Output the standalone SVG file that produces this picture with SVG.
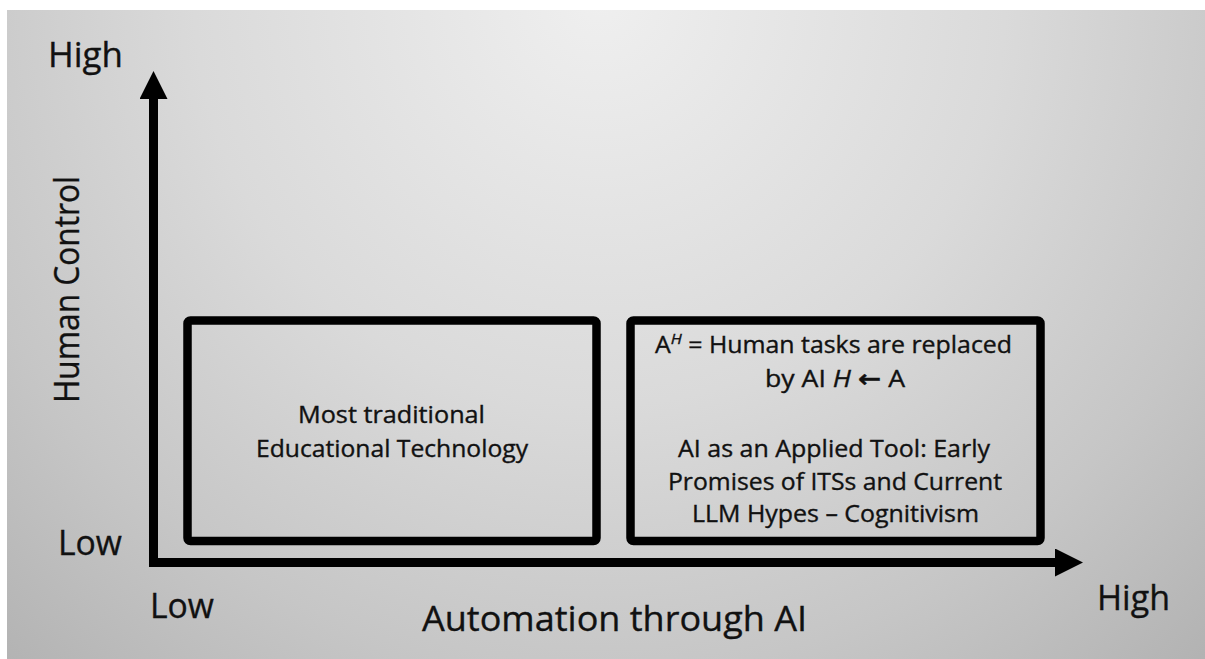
<svg xmlns="http://www.w3.org/2000/svg" width="1205" height="659" viewBox="0 0 1205 659">
  <style>
    text { font-family: "Open Sans", "Liberation Sans", sans-serif; fill: #111111; stroke: #111111; stroke-width: 0.35; }
    .axis { font-size: 35px; }
    .box-text { font-size: 23px; text-anchor: middle; }
    .arrowglyph { font-family: "DejaVu Sans", sans-serif; font-weight: bold; font-size: 24px; }
    .box { fill: none; stroke: #000000; stroke-width: 8.5; }
    .axisline { fill: none; stroke: #000000; stroke-width: 9; stroke-linejoin: miter; }
  </style>
  <defs>
    <radialGradient id="bg" gradientUnits="userSpaceOnUse" cx="600" cy="0" r="900">
      <stop offset="0" stop-color="#efefef"/>
      <stop offset="0.45" stop-color="#dadada"/>
      <stop offset="0.75" stop-color="#c6c6c6"/>
      <stop offset="1" stop-color="#b2b2b2"/>
    </radialGradient>
    <marker id="arrow" viewBox="0 0 28 28" refX="2" refY="14" markerWidth="28" markerHeight="28" markerUnits="userSpaceOnUse" orient="auto-start-reverse">
      <path d="M0,0 L28,14 L0,28 z" fill="#000000"/>
    </marker>
  </defs>

  <rect x="0" y="0" width="1205" height="659" fill="#ffffff"/>
  <rect x="7" y="10" width="1198" height="649" fill="url(#bg)"/>

  <g id="connectors">
    <path class="axisline" d="M153.5,97 V562.5 H1057" marker-start="url(#arrow)" marker-end="url(#arrow)"/>
  </g>

  <g id="axis-labels">
    <text class="axis" x="48" y="67" textLength="75" lengthAdjust="spacingAndGlyphs">High</text>
    <text class="axis" x="58" y="555" font-size="32" textLength="64" lengthAdjust="spacingAndGlyphs">Low</text>
    <text class="axis" x="150" y="618" font-size="34" textLength="64" lengthAdjust="spacingAndGlyphs">Low</text>
    <text class="axis" x="1097" y="610" textLength="73" lengthAdjust="spacingAndGlyphs">High</text>
    <text class="axis" x="422" y="631" font-size="33" textLength="385" lengthAdjust="spacingAndGlyphs">Automation through AI</text>
    <text class="axis" x="0" y="0" font-size="31" transform="translate(79,403) rotate(-90)" textLength="227" lengthAdjust="spacingAndGlyphs">Human Control</text>
  </g>

  <g id="node-traditional">
    <rect class="box" x="187.5" y="320.5" width="409" height="220.5" rx="3"/>
    <text class="box-text" x="391.5" y="423" textLength="187" lengthAdjust="spacingAndGlyphs">Most traditional</text>
    <text class="box-text" x="392" y="457" textLength="272" lengthAdjust="spacingAndGlyphs">Educational Technology</text>
  </g>

  <g id="node-replaced">
    <rect class="box" x="630.5" y="320.5" width="410" height="220.5" rx="3"/>
    <text class="box-text" x="833.5" y="353" textLength="357" lengthAdjust="spacingAndGlyphs">A<tspan font-size="15" font-style="italic" dy="-9">H</tspan><tspan dy="9"> = Human tasks are replaced</tspan></text>
    <text class="box-text" x="835" y="387" textLength="140" lengthAdjust="spacingAndGlyphs">by AI <tspan font-style="italic">H</tspan> <tspan class="arrowglyph">←</tspan> A</text>
    <text class="box-text" x="834" y="457" textLength="312" lengthAdjust="spacingAndGlyphs">AI as an Applied Tool: Early</text>
    <text class="box-text" x="835" y="490" textLength="334" lengthAdjust="spacingAndGlyphs">Promises of ITSs and Current</text>
    <text class="box-text" x="835.5" y="522" textLength="287" lengthAdjust="spacingAndGlyphs">LLM Hypes – Cognitivism</text>
  </g>
</svg>
